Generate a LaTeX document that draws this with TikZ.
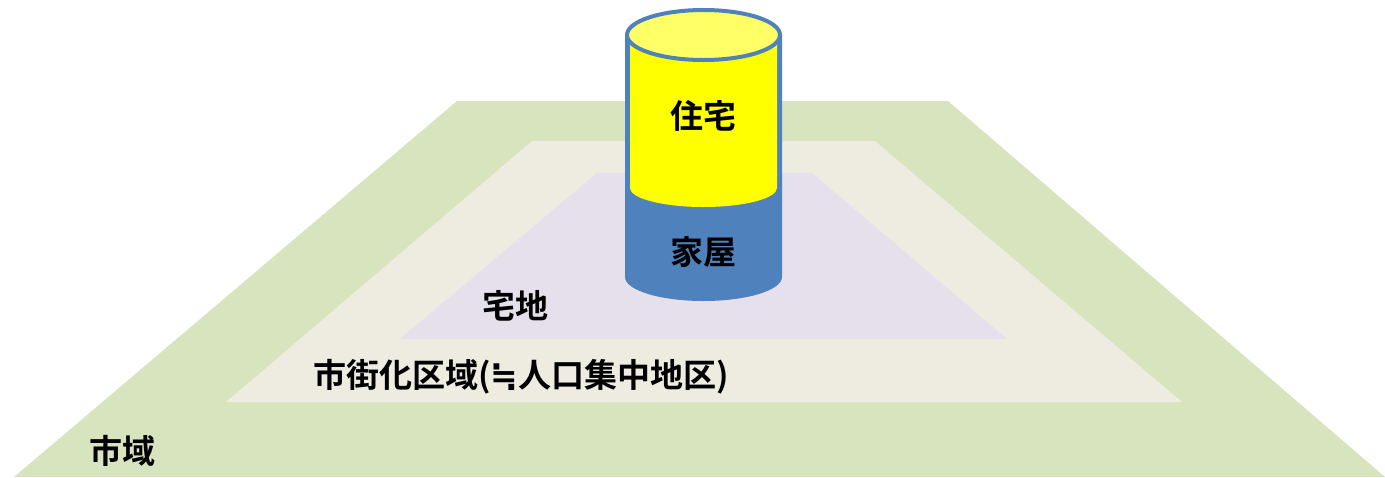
\documentclass[tikz,border=0pt]{standalone}
\usepackage{fontspec}
\newfontfamily\cjk{Noto Sans CJK JP}[BoldFont={Noto Sans CJK JP Bold}]
\newfontfamily\symf{DejaVu Sans}
\definecolor{outerg}{HTML}{D7E4BD}
\definecolor{midb}{HTML}{EEECE1}
\definecolor{innerl}{HTML}{E5E0EC}
\definecolor{cylblue}{HTML}{4F81BD}
\definecolor{cylyel}{HTML}{FFFF00}
\definecolor{topyel}{HTML}{FFFF66}
\tikzset{
  lbl/.style={font=\cjk\bfseries\fontsize{33}{35}\selectfont, inner sep=0pt, text=black},
}
\begin{document}
\begin{tikzpicture}[x=1pt,y=-1pt]
\useasboundingbox (0,0) rectangle (1385,477);
% regions
\fill[outerg] (457,101) -- (948,101) -- (1385,477) -- (14,477) -- cycle;
\fill[midb] (532,141) -- (875,141) -- (1182,402) -- (226,402) -- cycle;
\fill[innerl] (597,173) -- (812,173) -- (1007,339) -- (400,339) -- cycle;
% cylinder: blue body
\fill[cylblue] (625,35) -- (625,277) arc[start angle=180,end angle=0,x radius=78.5,y radius=24] -- (782,35) -- cycle;
% yellow part
\fill[cylyel] (630,35) -- (630,188) arc[start angle=180,end angle=0,x radius=73.5,y radius=19] -- (777,35) -- cycle;
% top ellipse
\filldraw[fill=topyel,draw=cylblue,line width=4pt] (703.5,35) ellipse[x radius=76.5,y radius=25];
% labels
\node[lbl] (jutaku) at (703,116) {住宅};
\node[lbl] (kaoku) at (703,252) {家屋};
\node[lbl] (takuchi) at (515,306) {宅地};
\node[lbl, anchor=west] (shigai) at (313,377) {市街化区域({\symf\bfseries ≒}人口集中地区)};
\node[lbl] (shiiki) at (122,451) {市域};
\end{tikzpicture}
\end{document}
